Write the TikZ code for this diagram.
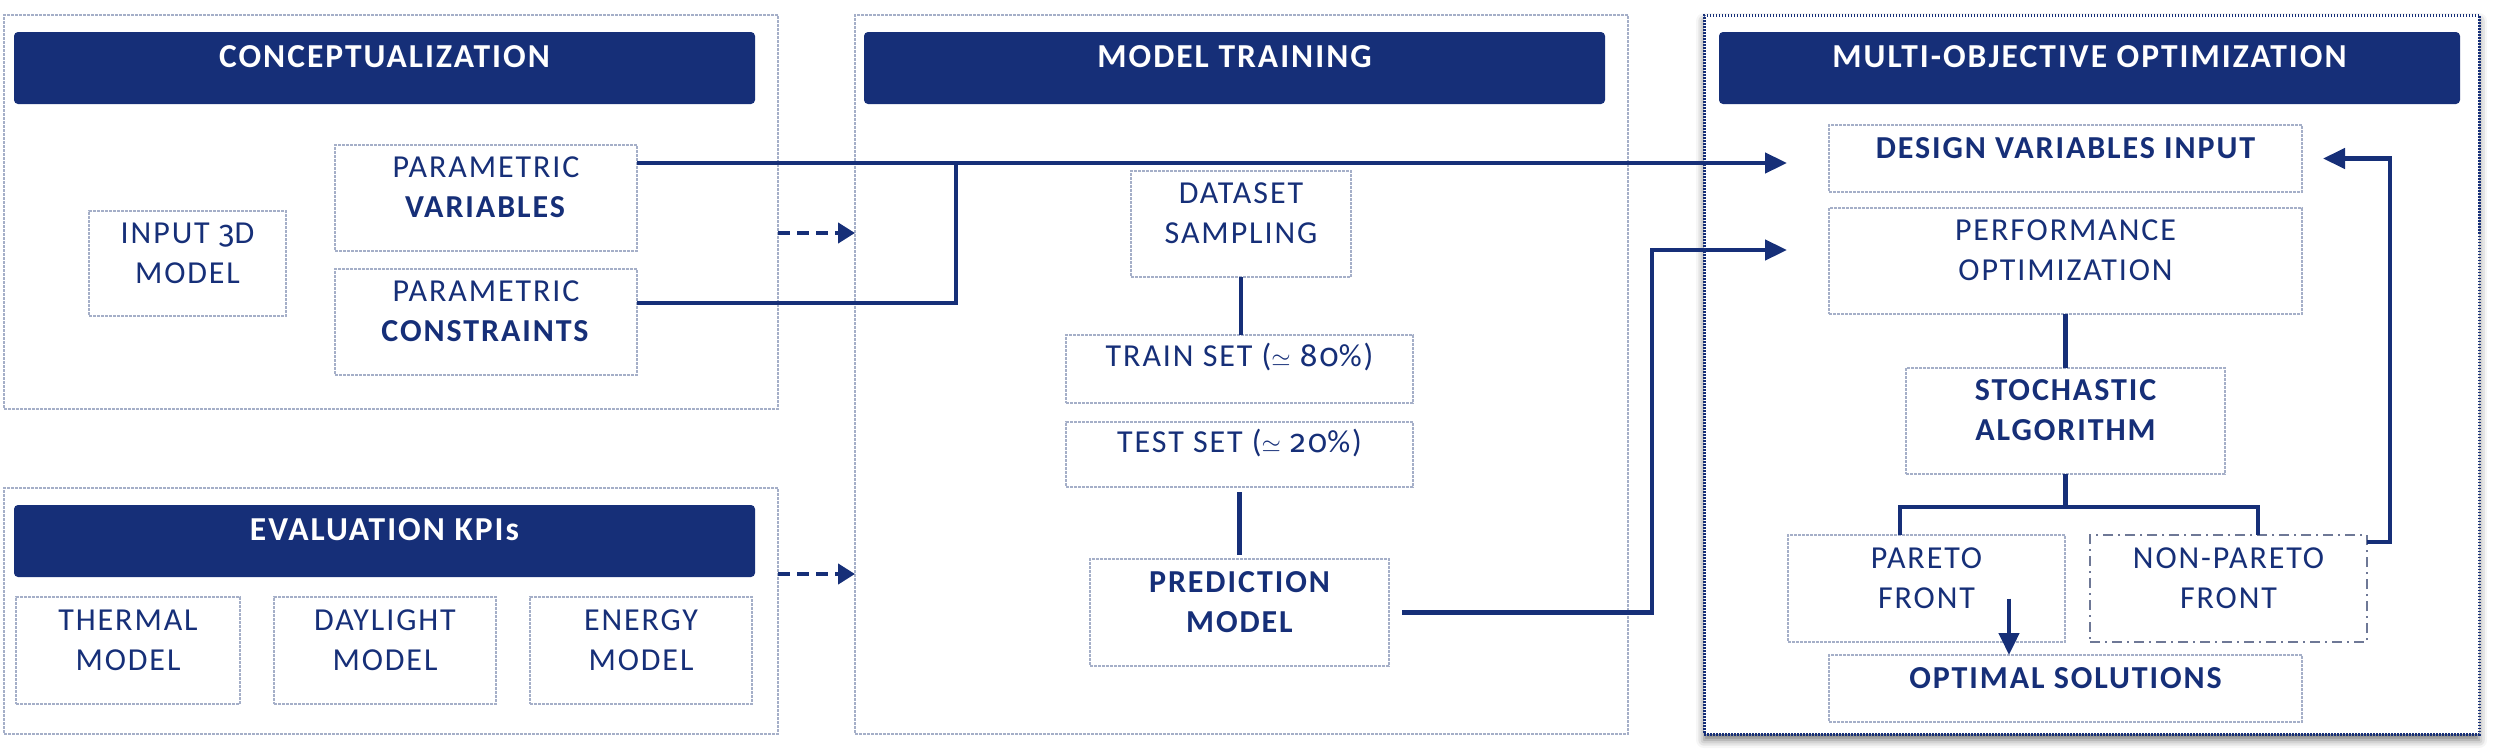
\documentclass[tikz,border=0pt]{standalone}
\usepackage{fontspec}
\setmainfont{Carlito}[LetterSpace=6]
\newfontfamily\numfont{Fira Sans}[Numbers=OldStyle]
\usetikzlibrary{arrows.meta,fit,shadows.blur}
\definecolor{navy}{RGB}{22,47,120}
\definecolor{hdrfill}{RGB}{22,47,120}
\definecolor{boxline}{RGB}{165,175,200}
\definecolor{dashline}{RGB}{110,120,150}
\newcommand{\osn}[1]{{\numfont\addfontfeatures{LetterSpace=6}#1}}
\begin{document}
\begin{tikzpicture}[x=1pt,y=-1pt,
  every node/.style={inner sep=0pt, outer sep=0pt},
  txt/.style={font=\fontsize{32}{40}\selectfont, text=navy, align=center},
  box/.style={txt, draw=boxline, line width=1.5pt, dash pattern=on 3pt off 1pt},
  boldbox/.style={box, font=\fontsize{32}{40}\selectfont\bfseries},
  frame/.style={draw=boxline, line width=1.5pt, dash pattern=on 3pt off 1pt},
  moframe/.style={draw=navy, line width=3pt, dash pattern=on 1.5pt off 1.5pt, fill=white,
    blur shadow={shadow xshift=0pt, shadow yshift=-6pt, shadow blur radius=8pt, shadow opacity=55}},
  hdr/.style={fill=hdrfill, rounded corners=4pt, text=white, font=\fontsize{33.5}{40}\selectfont\bfseries},
  conn/.style={draw=navy, line width=4.5pt},
  tip/.style={-{Triangle[length=22pt,width=20pt]}},
  dasharr/.style={draw=navy, line width=4.5pt, dash pattern=on 12pt off 7pt, -{Triangle[length=17pt,width=20pt]}},
]
\useasboundingbox (0,0) rectangle (2500,755);
% frames
\node[frame, fit={(4,15) (778,409)}] (conc) {};
\node[frame, fit={(4,488) (778,734)}] (kpi) {};
\node[frame, fit={(855,15) (1628,734)}] (mt) {};
\node[moframe, fit={(1704,15) (2479,734)}] (mo) {};
% headers
\node[hdr, fit={(14,32) (755,104)}] (hc) {CONCEPTUALIZATION};
\node[hdr, fit={(14,505) (755,577)}] (hk) {EVALUATION KPIs};
\node[hdr, fit={(864,32) (1605,104)}] (hm) {MODEL TRAINING};
\node[hdr, fit={(1719,32) (2460,104)}] (ho) {MULTI-OBJECTIVE OPTIMIZATION};
% conceptualization
\node[box, fit={(89,211) (286,316)}] (in3d) {INPUT \osn{3}D\\MODEL};
\node[box, fit={(335,145) (637,251)}] (pvar) {PARAMETRIC\\\textbf{VARIABLES}};
\node[box, fit={(335,269) (637,375)}] (pcon) {PARAMETRIC\\\textbf{CONSTRAINTS}};
% KPIs
\node[box, fit={(16,597) (240,704)}] (therm) {THERMAL\\MODEL};
\node[box, fit={(274,597) (496,704)}] (day) {DAYLIGHT\\MODEL};
\node[box, fit={(530,597) (752,704)}] (ener) {ENERGY\\MODEL};
% model training
\node[box, fit={(1131,171) (1351,277)}] (data) {DATASET\\SAMPLING};
\node[box, fit={(1066,335) (1413,403)}] (train) {TRAIN SET ($\simeq$ \osn{80}\%)};
\node[box, fit={(1066,422) (1413,487)}] (test) {TEST SET ($\simeq$ \osn{20}\%)};
\node[boldbox, fit={(1090,559) (1389,666)}] (pred) {PREDICTION\\MODEL};
% multi-objective
\node[boldbox, fit={(1829,125) (2302,192)}] (des) {DESIGN VARIABLES INPUT};
\node[box, fit={(1829,208) (2302,314)}] (perf) {PERFORMANCE\\OPTIMIZATION};
\node[boldbox, fit={(1906,368) (2225,474)}] (stoch) {STOCHASTIC\\ALGORITHM};
\node[box, fit={(1788,535) (2065,642)}] (par) {PARETO\\FRONT};
\node[box, draw=dashline, line width=2pt, dash pattern=on 10pt off 5pt on 2pt off 5pt, fit={(2090,535) (2367,642)}] (npar) {NON-PARETO\\FRONT};
\node[boldbox, fit={(1829,655) (2302,722)}] (opt) {OPTIMAL SOLUTIONS};
% junction points
\coordinate (jv) at (956,163);
\coordinate (jp) at (1652,250);
\coordinate (jf) at (2390,158.5);
% connectors
\coordinate (a1) at ([yshift=-18pt]pvar.north east);
\draw[conn, tip, shorten >=42pt] (a1) -- (a1 -| des.west);
\coordinate (a2) at ([yshift=-34pt]pcon.north east);
\draw[conn] (a2) -| (jv);
\coordinate (a3) at ([xshift=13pt]pred.east);
\draw[conn, tip, shorten >=42pt] (a3) -| (jp) -- (jp -| perf.west);
\draw[conn] (data.south) -- (data.south |- train.north);
\draw[conn, shorten <=5pt, shorten >=4pt] (test.south) -- (pred.north);
\draw[conn] (perf.south) -- (stoch.north);
\draw[conn] (stoch.south) -- ++(0,33);
\draw[conn] ([xshift=-26.5pt]par.north) -- ++(0,-28) -| ([xshift=29.5pt]npar.north);
\draw[conn, tip, shorten >=21pt] ([yshift=-7pt]npar.north east) -| (jf) -- (des.east);
\coordinate (pa) at ([xshift=-56pt,yshift=-10pt]par.east);
\draw[conn, tip] (pa) -- (pa |- opt.north);
% dashed arrows
\coordinate (d1) at ([yshift=-21pt]conc.east);
\draw[dasharr] (d1) -- (d1 -| mt.west);
\coordinate (d2) at ([yshift=37pt]kpi.east);
\draw[dasharr] (d2) -- (d2 -| mt.west);
\end{tikzpicture}
\end{document}
